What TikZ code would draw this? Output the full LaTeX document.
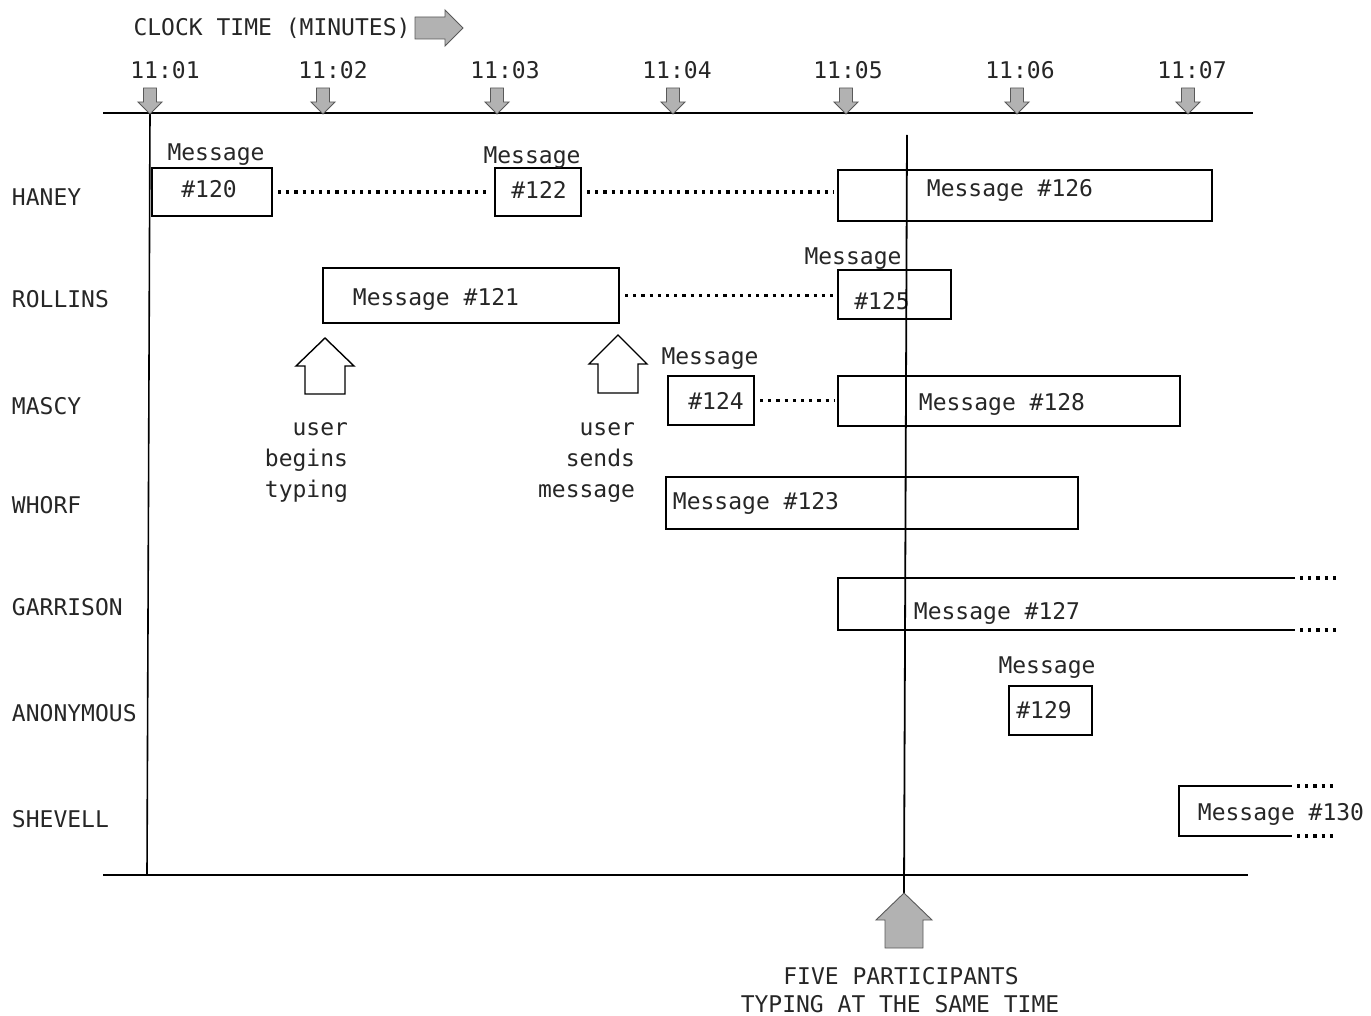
\documentclass[tikz,border=0pt]{standalone}
\usepackage{fontspec}
\newfontfamily\tw{DejaVu Sans Mono}
\newcommand\msgrect[5]{\node[msgbox, minimum width={(#4-#2)*1pt}, minimum height={(#5-#3)*1pt}] (#1) at ({(#2+#4)/2},{(#3+#5)/2}) {};}
\begin{document}
\begin{tikzpicture}[x=1pt,y=-1pt,
  every node/.style={font=\tw\fontsize{23}{28}\selectfont, text=black!85, inner sep=0pt, outer sep=0pt},
  msgbox/.style={draw, line width=1.6pt},
  openbox/.style={line width=1.6pt},
  dotline/.style={line width=3.2pt, dash pattern=on 3.2pt off 5pt},
  rowlabel/.style={anchor=west},
  axis/.style={line width=1.6pt},
  shaded/.style={fill=gray!60, draw=black!65, line width=0.9pt},
  hollow/.style={draw, line width=1.4pt, line join=miter},
  tickarr/.pic={\filldraw[shaded] (-6.5,-25) -- (6.5,-25) -- (6.5,-11) -- (12,-11) -- (0,1) -- (-12,-11) -- (-6.5,-11) -- cycle;}
]
\useasboundingbox (0,0) rectangle (1371,1016);

% title
\node (title) at (272,28) {CLOCK TIME (MINUTES)};
\filldraw[shaded] (415,17) -- (445,17) -- (445,10) -- (463,28) -- (445,46) -- (445,39) -- (415,39) -- cycle;

% axes
\coordinate (axL) at (103,113);
\coordinate (axR) at (1253,113);
\coordinate (bxL) at (103,875);
\coordinate (bxR) at (1248,875);
\draw[axis] (axL) -- (axR);
\draw[axis] (bxL) -- (bxR);
\coordinate (vlT) at (150,113);
\coordinate (vlB) at (147,875);
\draw[axis] (vlT) -- (vlB);

% time ticks
\foreach \ax/\lx/\t in {150/165/11:01, 323/333/11:02, 497/505/11:03, 673/677/11:04, 846/848/11:05, 1017/1020/11:06, 1188/1192/11:07}{
  \node (t\ax) at (\lx,70) {\t};
  \pic at (\ax,113) {tickarr};
}

% row labels
\node[rowlabel] (haney) at (12,197) {HANEY};
\node[rowlabel] (rollins) at (12,299) {ROLLINS};
\node[rowlabel] (mascy) at (12,406) {MASCY};
\node[rowlabel] (whorf) at (12,505) {WHORF};
\node[rowlabel] (garrison) at (12,607) {GARRISON};
\node[rowlabel] (anon) at (12,713) {ANONYMOUS};
\node[rowlabel] (shevell) at (12,819) {SHEVELL};

% HANEY
\msgrect{h120}{152}{168}{272}{216}
\msgrect{h122}{495}{168}{581}{216}
\msgrect{h126}{838}{170}{1212}{221}
\node (h120a) at (216,155) {Message};
\node (h120b) at (209,189) {\#120};
\node (h122a) at (532,158) {Message};
\node (h122b) at (539,190) {\#122};
\node (h126t) at (1010,190) {Message \#126};
\draw[dotline] ([xshift=6pt]h120.east) -- ([xshift=-4pt]h122.west);
\draw[dotline] ([xshift=6pt]h122.east) -- ([xshift=-4pt]h126.west |- h122.east);

% ROLLINS
\msgrect{r121}{323}{268}{619}{323}
\msgrect{r125}{838}{270}{951}{319}
\node (r121t) at (436,299) {Message \#121};
\node (r125a) at (853,259) {Message};
\node (r125b) at (882,301) {\#125};
\draw[dotline] ([xshift=6pt]r121.east) -- ([xshift=-4pt]r125.west |- r121.east);

% MASCY
\msgrect{m124}{668}{376}{754}{425}
\msgrect{m128}{838}{376}{1180}{426}
\node (m124a) at (710,359) {Message};
\node (m124b) at (716,401) {\#124};
\node (m128t) at (1002,404) {Message \#128};
\draw[dotline] ([xshift=6pt]m124.east) -- ([xshift=-4pt]m128.west |- m124.east);

% WHORF
\msgrect{w123}{666}{477}{1078}{529}
\node (w123t) at (756,503) {Message \#123};

% GARRISON
\coordinate (g1) at (1295,578);
\coordinate (g2) at (838,578);
\coordinate (g3) at (838,630);
\coordinate (g4) at (1295,630);
\coordinate (g1e) at (1336,578);
\coordinate (g4e) at (1336,630);
\draw[openbox] (g1) -- (g2) -- (g3) -- (g4);
\draw[dotline] ([xshift=5pt]g1) -- (g1e);
\draw[dotline] ([xshift=5pt]g4) -- (g4e);
\node (g127t) at (997,613) {Message \#127};

% ANONYMOUS
\msgrect{a129}{1009}{686}{1092}{735}
\node (a129a) at (1047,668) {Message};
\node (a129b) at (1044,710) {\#129};

% SHEVELL
\coordinate (s1) at (1292,786);
\coordinate (s2) at (1179,786);
\coordinate (s3) at (1179,836);
\coordinate (s4) at (1292,836);
\coordinate (s1e) at (1336,786);
\coordinate (s4e) at (1336,836);
\draw[openbox] (s1) -- (s2) -- (s3) -- (s4);
\draw[dotline] ([xshift=5pt]s1) -- (s1e);
\draw[dotline] ([xshift=5pt]s4) -- (s4e);
\node (s130t) at (1281,814) {Message \#130};

% hollow arrows and annotations
\draw[hollow] (305,394) -- (305,366) -- (296,366) -- (325,338) -- (354,366) -- (345,366) -- (345,394) -- cycle;
\draw[hollow] (598,393) -- (598,364) -- (589,364) -- (618,335) -- (647,364) -- (638,364) -- (638,393) -- cycle;
\node[anchor=base east] (ub1) at (348,435) {user};
\node[anchor=base east] (ub2) at (348,466) {begins};
\node[anchor=base east] (ub3) at (348,497) {typing};
\node[anchor=base east] (us1) at (635,435) {user};
\node[anchor=base east] (us2) at (635,466) {sends};
\node[anchor=base east] (us3) at (635,497) {message};

% five participants line and arrow
\coordinate (fvT) at (907,135);
\coordinate (fvB) at (904,893);
\draw[line width=1.8pt] (fvT) -- (fvB);
\filldraw[shaded] (885,948) -- (885,920) -- (876,920) -- (904,893) -- (932,920) -- (923,920) -- (923,948) -- cycle;
\node (five1) at (901,976) {FIVE PARTICIPANTS};
\node (five2) at (900,1004) {TYPING AT THE SAME TIME};
\end{tikzpicture}
\end{document}
